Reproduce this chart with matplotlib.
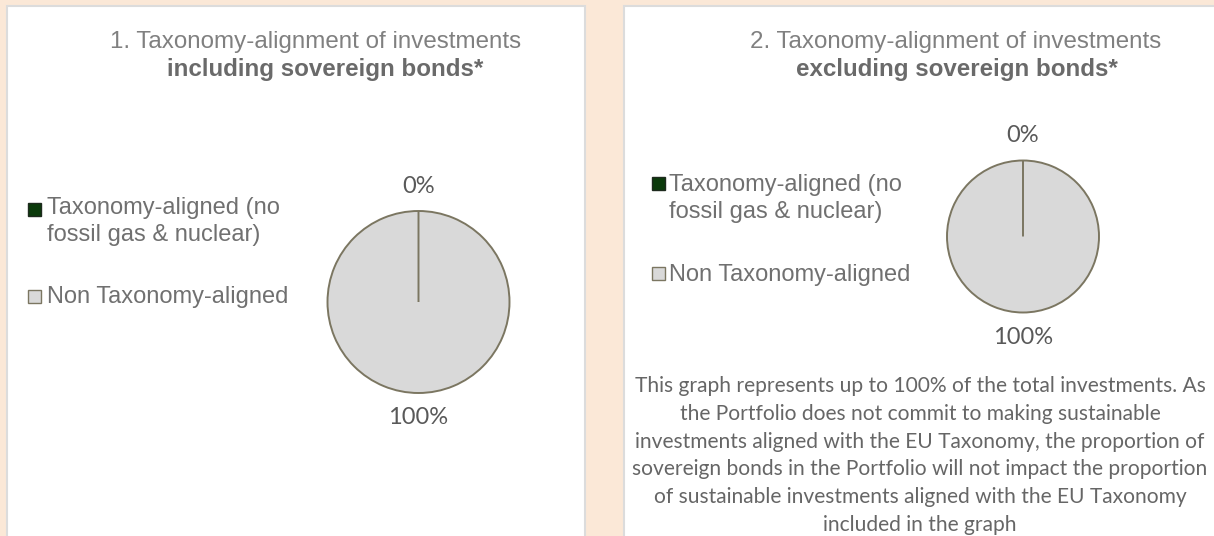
import matplotlib
matplotlib.use("Agg")
import matplotlib.pyplot as plt
from matplotlib.patches import Rectangle

# ---- data ----
categories = ["Taxonomy-aligned (no\nfossil gas & nuclear)", "Non Taxonomy-aligned"]
colors = ["#0B3A0B", "#D9D9D9"]
values_incl = [0, 100]
values_excl = [0, 100]
title1_a = "1. Taxonomy-alignment of investments"
title1_b = "including sovereign bonds*"
title2_a = "2. Taxonomy-alignment of investments"
title2_b = "excluding sovereign bonds*"
note_lines = [
    "This graph represents up to 100% of the total investments. As",
    "the Portfolio does not commit to making sustainable",
    "investments aligned with the EU Taxonomy, the proportion of",
    "sovereign bonds in the Portfolio will not impact the proportion",
    "of sustainable investments aligned with the EU Taxonomy",
    "included in the graph",
]

W, H = 1214, 536
fig = plt.figure(figsize=(W / 100, H / 100), dpi=100)
fig.patch.set_facecolor("#FBE8D7")

def fx(x):
    return x / W

def fy(y):
    return 1 - y / H

EDGE = "#7B7661"
SANS = ["Liberation Sans", "DejaVu Sans"]
CAL = ["Lato", "DejaVu Sans"]

# panels
for x0, x1 in [(7, 585), (624, 1230)]:
    fig.patches.append(Rectangle((fx(x0), fy(545)), (x1 - x0) / W, (545 - 6) / H,
                                 transform=fig.transFigure, facecolor="white",
                                 edgecolor="#DCDCDC", linewidth=1.5, zorder=-5))

def draw_pie(values, cx, cy, r, ldist):
    ax = fig.add_axes([fx(cx - r), fy(cy + r), 2 * r / W, 2 * r / H], zorder=2)
    ax.patch.set_visible(False)
    wedges, _ = ax.pie(values, colors=colors, startangle=90, counterclock=False,
                       labels=[f"{v:.0f}%" for v in values], labeldistance=ldist,
                       wedgeprops=dict(edgecolor=EDGE, linewidth=1.4),
                       textprops=dict(ha="center", va="center", fontsize=17,
                                      color="#595959", family=CAL))
    # draw the smaller slices on top so their edges remain visible
    for w, v in zip(wedges, values):
        w.set_zorder(3 if v < max(values) else 2)
    ax.set_xlim(-1, 1)
    ax.set_ylim(-1, 1)
    ax.set_aspect("auto")
    ax.axis("off")
    return ax

draw_pie(values_incl, 418.5, 302, 91, 1.27)
draw_pie(values_excl, 1023, 236.5, 76, 1.33)

def legend(x_sq, sq_ys, x_txt, txt_ys):
    for lab, col, ys, yt in zip(categories, colors, sq_ys, txt_ys):
        s = 13
        fig.patches.append(Rectangle((fx(x_sq - s / 2), fy(ys + s / 2)), s / W, s / H,
                                     transform=fig.transFigure, facecolor=col,
                                     edgecolor=EDGE if col != colors[0] else "#1E2A1E",
                                     linewidth=1.0, zorder=3))
        fig.text(fx(x_txt), fy(yt - 10.5), lab, ha="left", va="top", fontsize=17,
                 color="#707070", family=SANS, linespacing=1.32)

legend(34, [209, 296], 47, [207, 296])
legend(658.5, [183, 273.5], 669, [184, 275])

# titles
fig.text(fx(316), fy(42), title1_a, ha="center", va="center", fontsize=17.4,
         color="#808080", family=SANS)
fig.text(fx(325), fy(69), title1_b, ha="center", va="center", fontsize=17.4,
         color="#6A6A6A", family=SANS, weight="bold")
fig.text(fx(956), fy(42), title2_a, ha="center", va="center", fontsize=17.4,
         color="#808080", family=SANS)
fig.text(fx(957), fy(69), title2_b, ha="center", va="center", fontsize=17.4,
         color="#6A6A6A", family=SANS, weight="bold")

# note
for i, line in enumerate(note_lines):
    fig.text(fx(920), fy(386 + i * 27.8), line, ha="center", va="center",
             fontsize=15.1, color="#666666", family=CAL)

fig.savefig("out.png", dpi=100, facecolor=fig.get_facecolor())
